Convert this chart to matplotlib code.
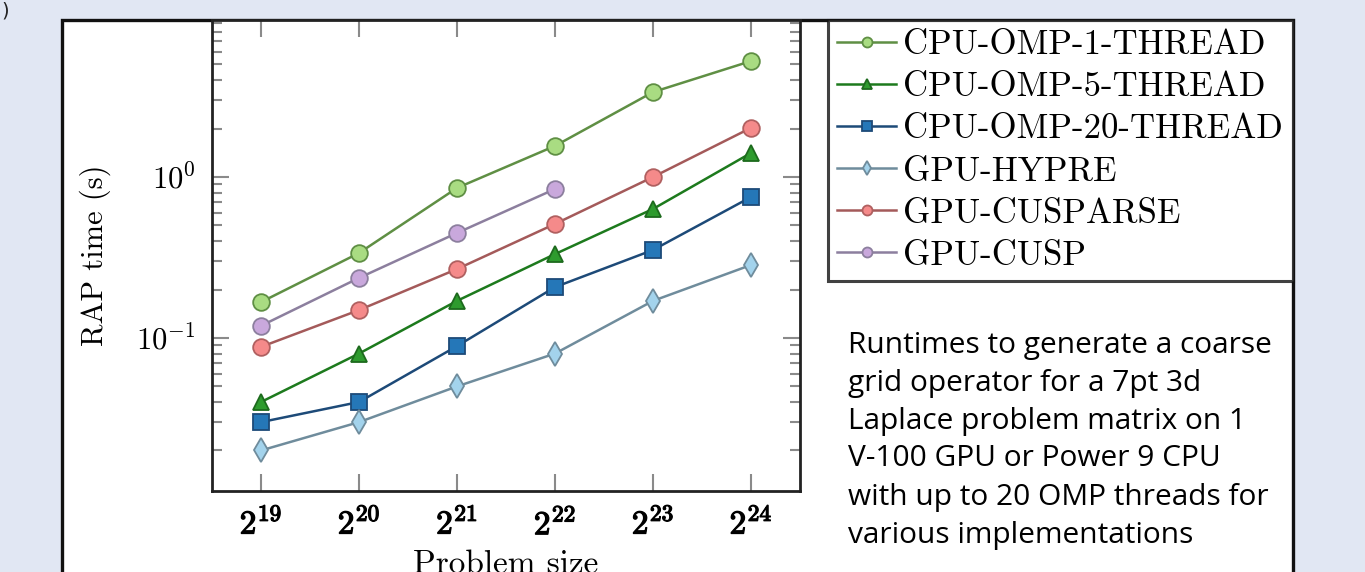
import matplotlib
matplotlib.use("Agg")
import matplotlib.pyplot as plt
import matplotlib.patheffects as pe
from matplotlib.patches import Rectangle
from matplotlib.ticker import LogLocator, FixedLocator, NullFormatter

plt.rcParams['mathtext.fontset'] = 'cm'
plt.rcParams['font.family'] = ['cmr10', 'DejaVu Serif']
plt.rcParams['axes.formatter.use_mathtext'] = True

# ---- data ----
exponents = [19, 20, 21, 22, 23, 24]
xtick_labels = [r'$\mathbf{2}^{\mathbf{%d}}$' % e for e in exponents]

cpu_omp_1 = [0.167, 0.337, 0.855, 1.56, 3.37, 5.25]
cpu_omp_5 = [0.040, 0.080, 0.170, 0.332, 0.633, 1.41]
cpu_omp_20 = [0.030, 0.040, 0.089, 0.207, 0.352, 0.751]
gpu_hypre = [0.020, 0.030, 0.050, 0.080, 0.170, 0.284]
gpu_cusparse = [0.088, 0.149, 0.268, 0.511, 1.00, 2.02]
gpu_cusp = [0.119, 0.236, 0.449, 0.842]

labels = ['CPU-OMP-1-THREAD', 'CPU-OMP-5-THREAD', 'CPU-OMP-20-THREAD',
          'GPU-HYPRE', 'GPU-CUSPARSE', 'GPU-CUSP']

note_lines = ["Runtimes to generate a coarse",
              "grid operator for a 7pt 3d",
              "Laplace problem matrix on 1",
              "V-100 GPU or Power 9 CPU",
              "with up to 20 OMP threads for",
              "various implementations"]

W, H = 1365, 572
fig = plt.figure(figsize=(W / 100, H / 100), dpi=100)
fig.patch.set_facecolor('#e1e7f3')

# white panel
fig.patches.append(Rectangle((62 / W, -0.05), (1293 - 62) / W, 1.05 - 20 / H,
                             transform=fig.transFigure, facecolor='white',
                             edgecolor='#111111', linewidth=2.4, zorder=0))
fig.text(0.001, 0.997, ')', fontsize=14, ha='left', va='top', color='#222222',
         family='DejaVu Sans')

ax = fig.add_axes([212 / W, 1 - 491 / H, (800 - 212) / W, (491 - 20) / H])
ax.set_zorder(2)
ax.set_facecolor('white')

xs = [2.0 ** e for e in exponents]
styles = [
    dict(color='#5f8f44', marker='o', mfc='#a9dc82', mec='#5f8f44', ms=12),
    dict(color='#1d7a1d', marker='^', mfc='#2e9b2e', mec='#1d6a1d', ms=12),
    dict(color='#1d4a78', marker='s', mfc='#2577b8', mec='#1d4a78', ms=12),
    dict(color='#6f8c9c', marker='d', mfc='#a3d3ec', mec='#6f8c9c', ms=12),
    dict(color='#a45a5a', marker='o', mfc='#f58a8a', mec='#b06060', ms=12),
    dict(color='#8c7f9e', marker='o', mfc='#c9a8dc', mec='#8c7f9e', ms=12),
]
series = [cpu_omp_1, cpu_omp_5, cpu_omp_20, gpu_hypre, gpu_cusparse, gpu_cusp]
handles = []
for ys, lab, st in zip(series, labels, styles):
    h, = ax.plot(xs[:len(ys)], ys, label=lab, lw=1.8, mew=1.3, **st)
    handles.append(h)

ax.set_xscale('log', base=2)
ax.set_yscale('log')
ax.set_xlim(2.0 ** 18.5, 2.0 ** 24.5)
ax.set_ylim(0.0112, 9.45)
ax.xaxis.set_major_locator(FixedLocator(xs))
ax.set_xticks(xs)
ax.set_xticklabels(xtick_labels, fontsize=24)
for lbl in ax.get_xticklabels():
    lbl.set_path_effects([pe.withStroke(linewidth=0.9, foreground='black')])
ax.xaxis.set_minor_locator(FixedLocator([]))
ax.yaxis.set_major_locator(LogLocator(base=10))
ax.yaxis.set_minor_locator(LogLocator(base=10, subs=range(2, 10)))
ax.yaxis.set_minor_formatter(NullFormatter())
ax.tick_params(axis='y', labelsize=22)
ax.tick_params(which='both', direction='in', top=True, right=True,
               color='#8a8a8a', width=1.5)
ax.tick_params(which='major', length=12, pad=12)
ax.tick_params(axis='x', which='major', pad=10)
ax.tick_params(which='minor', length=7)
for sp in ax.spines.values():
    sp.set_linewidth(2.0)
    sp.set_color('#222222')

ax.set_ylabel('RAP time (s)', fontsize=22, labelpad=18)
ax.set_xlabel('Problem size', fontsize=24, labelpad=7)

leg = fig.legend(handles=handles, loc='upper right',
                 bbox_to_anchor=(1293 / W, 1 - 20 / H), borderaxespad=0,
                 fontsize=25, frameon=True, fancybox=False, markerscale=0.6,
                 handlelength=1.7, handletextpad=0.2, labelspacing=0.3,
                 borderpad=0.28)
leg.get_frame().set_edgecolor('#111111')
leg.get_frame().set_linewidth(2.2)

y0 = 1 - 345 / H
for i, line in enumerate(note_lines):
    fig.text(848 / W, y0 - i * 38 / H, line, fontsize=21.5, family='Open Sans',
             ha='left', va='center', color='black')

fig.savefig('out.png', dpi=100, facecolor=fig.get_facecolor())
